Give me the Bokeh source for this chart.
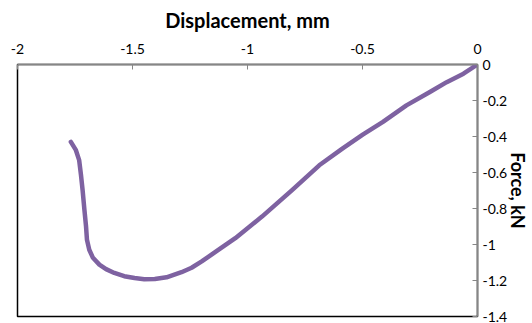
from bokeh.plotting import figure
from bokeh.models import FixedTicker, Range1d
from bokeh.embed import file_html
from bokeh.resources import INLINE

# Force–displacement curve (displacement in mm, force in kN)
displacement = [0.0, -0.061, -0.134, -0.207, -0.309, -0.411, -0.499, -0.586, -0.688,
                -0.805, -0.937, -1.053, -1.130, -1.199, -1.243, -1.287, -1.352,
                -1.403, -1.449, -1.491, -1.536, -1.579, -1.615, -1.644, -1.672,
                -1.688, -1.698, -1.702, -1.709, -1.717, -1.724, -1.732, -1.746, -1.768]
force = [0.0, -0.051, -0.098, -0.153, -0.227, -0.319, -0.390, -0.466, -0.560,
         -0.697, -0.845, -0.965, -1.033, -1.094, -1.129, -1.154, -1.182,
         -1.192, -1.193, -1.186, -1.176, -1.158, -1.137, -1.112, -1.074,
         -1.029, -0.974, -0.900, -0.808, -0.697, -0.614, -0.531, -0.476, -0.430]

x_ticks = [-2, -1.5, -1, -0.5, 0]
x_tick_labels = ["-2", "-1.5", "-1", "-0.5", "0"]
y_ticks = [0, -0.2, -0.4, -0.6, -0.8, -1, -1.2, -1.4]
y_tick_labels = ["0", "-0.2", "-0.4", "-0.6", "-0.8", "-1", "-1.2", "-1.4"]

FONT = "Lato"

p = figure(width=532, height=323, output_backend="svg", toolbar_location=None,
           x_range=Range1d(-2, 0), y_range=Range1d(-1.4, 0),
           x_axis_location="above", y_axis_location="right",
           min_border_left=17, min_border_bottom=7, min_border_top=64, min_border_right=0)

p.line(displacement, force, line_color="#7E62A1", line_width=4.5,
       line_join="round", line_cap="round")

p.grid.visible = False
p.outline_line_color = "black"
p.outline_line_width = 1.5
p.background_fill_color = "white"
p.border_fill_color = "white"

xa = p.xaxis[0]
xa.ticker = FixedTicker(ticks=x_ticks)
xa.major_label_overrides = dict(zip(x_ticks, x_tick_labels))
xa.axis_label = "Displacement, mm"

ya = p.yaxis[0]
ya.ticker = FixedTicker(ticks=y_ticks)
ya.major_label_overrides = dict(zip(y_ticks, y_tick_labels))
ya.axis_label = "Force, kN"

for ax in (xa, ya):
    ax.axis_line_color = "#868686"
    ax.axis_line_width = 1.5
    ax.major_tick_line_color = "#868686"
    ax.major_tick_in = 5
    ax.major_tick_out = 0
    ax.minor_tick_in = 0
    ax.minor_tick_out = 0
    ax.major_label_text_font = FONT
    ax.major_label_text_font_size = "14px"
    ax.major_label_text_color = "black"
    ax.axis_label_text_font = FONT
    ax.axis_label_text_font_style = "bold"
    ax.axis_label_text_color = "black"

xa.axis_label_text_font_size = "20px"
ya.axis_label_text_font_size = "18px"
xa.major_label_standoff = 11
xa.axis_label_standoff = 9
ya.major_label_standoff = 5
ya.axis_label_standoff = -3

open("out.html", "w").write(file_html(p, INLINE))
